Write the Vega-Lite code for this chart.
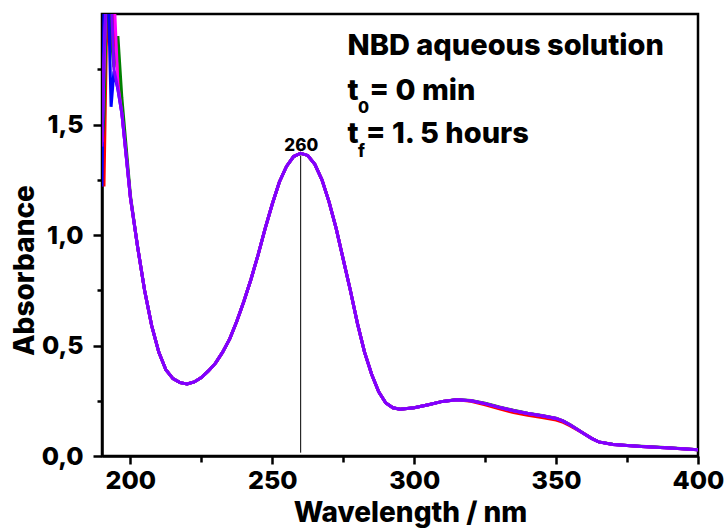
{
  "$schema": "https://vega.github.io/schema/vega-lite/v6.json",
  "width": 596,
  "height": 442,
  "autosize": {"type": "none"},
  "padding": {"left": 102, "top": 14, "right": 28, "bottom": 72},
  "background": "white",
  "config": {
    "view": {"stroke": "black", "strokeWidth": 2.5},
    "font": "Inter",
    "axis": {
      "grid": false,
      "domainColor": "black",
      "domainWidth": 2.5,
      "tickColor": "black",
      "tickWidth": 2.5,
      "labelFont": "Inter",
      "labelFontSize": 25,
      "labelFontWeight": 800,
      "labelColor": "black",
      "titleFont": "Inter",
      "titleFontSize": 28,
      "titleFontWeight": 800,
      "titleColor": "black",
      "labelOverlap": false,
      "labelFlush": false
    }
  },
  "layer": [
    {
      "data": {
        "values": [
          {"x": 190.0, "red": 1.30, "green": 1.40, "blue": 1.22, "magenta": 1.42, "violet": 1.40},
          {"x": 190.7, "red": 1.22, "green": 1.55, "blue": 2.05, "magenta": 1.75, "violet": 1.80},
          {"x": 191.5, "red": 1.85, "green": 2.00, "blue": 2.10, "magenta": 2.10, "violet": 2.10},
          {"x": 192.3, "red": 2.10, "green": 2.05, "blue": 2.05, "magenta": 2.10, "violet": 2.10},
          {"x": 193.2, "red": 2.10, "green": 1.90, "blue": 1.58, "magenta": 2.10, "violet": 2.10},
          {"x": 194.2, "red": 1.95, "green": 1.76, "blue": 1.74, "magenta": 2.10, "violet": 1.75},
          {"x": 195.6, "red": 1.72, "green": 1.90, "blue": 1.66, "magenta": 1.68, "violet": 1.66},
          {"x": 197.0, "red": 1.56, "green": 1.62, "blue": 1.55, "magenta": 1.55, "violet": 1.55},
          {"x": 198.5, "red": 1.37, "green": 1.40, "blue": 1.36, "magenta": 1.36, "violet": 1.36},
          {"x": 200.0, "red": 1.17, "green": 1.18, "blue": 1.17, "magenta": 1.17, "violet": 1.17},
          {"x": 202.5, "red": 0.95, "green": 0.95, "blue": 0.95, "magenta": 0.95, "violet": 0.95},
          {"x": 205.0, "red": 0.75, "green": 0.75, "blue": 0.75, "magenta": 0.75, "violet": 0.75},
          {"x": 207.5, "red": 0.59, "green": 0.59, "blue": 0.59, "magenta": 0.59, "violet": 0.59},
          {"x": 210.0, "red": 0.47, "green": 0.47, "blue": 0.47, "magenta": 0.47, "violet": 0.47},
          {"x": 212.5, "red": 0.39, "green": 0.39, "blue": 0.39, "magenta": 0.39, "violet": 0.39},
          {"x": 215.0, "red": 0.35, "green": 0.35, "blue": 0.35, "magenta": 0.35, "violet": 0.35},
          {"x": 217.5, "red": 0.332, "green": 0.332, "blue": 0.332, "magenta": 0.332, "violet": 0.332},
          {"x": 220.0, "red": 0.326, "green": 0.326, "blue": 0.326, "magenta": 0.326, "violet": 0.326},
          {"x": 222.5, "red": 0.335, "green": 0.335, "blue": 0.335, "magenta": 0.335, "violet": 0.335},
          {"x": 225.0, "red": 0.355, "green": 0.355, "blue": 0.355, "magenta": 0.355, "violet": 0.355},
          {"x": 227.5, "red": 0.385, "green": 0.385, "blue": 0.385, "magenta": 0.385, "violet": 0.385},
          {"x": 230.0, "red": 0.42, "green": 0.42, "blue": 0.42, "magenta": 0.42, "violet": 0.42},
          {"x": 232.5, "red": 0.47, "green": 0.47, "blue": 0.47, "magenta": 0.47, "violet": 0.47},
          {"x": 235.0, "red": 0.53, "green": 0.53, "blue": 0.53, "magenta": 0.53, "violet": 0.53},
          {"x": 237.5, "red": 0.61, "green": 0.61, "blue": 0.61, "magenta": 0.61, "violet": 0.61},
          {"x": 240.0, "red": 0.70, "green": 0.70, "blue": 0.70, "magenta": 0.70, "violet": 0.70},
          {"x": 242.5, "red": 0.80, "green": 0.80, "blue": 0.80, "magenta": 0.80, "violet": 0.80},
          {"x": 245.0, "red": 0.91, "green": 0.91, "blue": 0.91, "magenta": 0.91, "violet": 0.91},
          {"x": 247.5, "red": 1.03, "green": 1.03, "blue": 1.03, "magenta": 1.03, "violet": 1.03},
          {"x": 250.0, "red": 1.14, "green": 1.14, "blue": 1.14, "magenta": 1.14, "violet": 1.14},
          {"x": 252.5, "red": 1.24, "green": 1.24, "blue": 1.24, "magenta": 1.24, "violet": 1.24},
          {"x": 255.0, "red": 1.31, "green": 1.31, "blue": 1.31, "magenta": 1.31, "violet": 1.31},
          {"x": 257.5, "red": 1.355, "green": 1.355, "blue": 1.355, "magenta": 1.355, "violet": 1.355},
          {"x": 260.0, "red": 1.37, "green": 1.37, "blue": 1.37, "magenta": 1.37, "violet": 1.37},
          {"x": 262.5, "red": 1.36, "green": 1.36, "blue": 1.36, "magenta": 1.36, "violet": 1.36},
          {"x": 265.0, "red": 1.32, "green": 1.32, "blue": 1.32, "magenta": 1.32, "violet": 1.32},
          {"x": 267.5, "red": 1.25, "green": 1.25, "blue": 1.25, "magenta": 1.25, "violet": 1.25},
          {"x": 270.0, "red": 1.15, "green": 1.15, "blue": 1.15, "magenta": 1.15, "violet": 1.15},
          {"x": 272.5, "red": 1.03, "green": 1.03, "blue": 1.03, "magenta": 1.03, "violet": 1.03},
          {"x": 275.0, "red": 0.89, "green": 0.89, "blue": 0.89, "magenta": 0.89, "violet": 0.89},
          {"x": 277.5, "red": 0.75, "green": 0.75, "blue": 0.75, "magenta": 0.75, "violet": 0.75},
          {"x": 280.0, "red": 0.60, "green": 0.60, "blue": 0.60, "magenta": 0.60, "violet": 0.60},
          {"x": 282.5, "red": 0.47, "green": 0.47, "blue": 0.47, "magenta": 0.47, "violet": 0.47},
          {"x": 285.0, "red": 0.37, "green": 0.37, "blue": 0.37, "magenta": 0.37, "violet": 0.37},
          {"x": 287.5, "red": 0.29, "green": 0.29, "blue": 0.29, "magenta": 0.29, "violet": 0.29},
          {"x": 290.0, "red": 0.24, "green": 0.24, "blue": 0.24, "magenta": 0.24, "violet": 0.24},
          {"x": 292.5, "red": 0.218, "green": 0.218, "blue": 0.218, "magenta": 0.218, "violet": 0.218},
          {"x": 295.0, "red": 0.212, "green": 0.212, "blue": 0.212, "magenta": 0.212, "violet": 0.212},
          {"x": 300.0, "red": 0.218, "green": 0.218, "blue": 0.218, "magenta": 0.218, "violet": 0.218},
          {"x": 305.0, "red": 0.232, "green": 0.232, "blue": 0.232, "magenta": 0.232, "violet": 0.232},
          {"x": 310.0, "red": 0.247, "green": 0.247, "blue": 0.247, "magenta": 0.247, "violet": 0.247},
          {"x": 315.0, "red": 0.255, "green": 0.256, "blue": 0.255, "magenta": 0.255, "violet": 0.255},
          {"x": 320.0, "red": 0.248, "green": 0.251, "blue": 0.25, "magenta": 0.25, "violet": 0.25},
          {"x": 325.0, "red": 0.232, "green": 0.239, "blue": 0.237, "magenta": 0.237, "violet": 0.237},
          {"x": 330.0, "red": 0.213, "green": 0.222, "blue": 0.22, "magenta": 0.22, "violet": 0.22},
          {"x": 335.0, "red": 0.197, "green": 0.207, "blue": 0.205, "magenta": 0.205, "violet": 0.205},
          {"x": 340.0, "red": 0.184, "green": 0.194, "blue": 0.192, "magenta": 0.192, "violet": 0.192},
          {"x": 345.0, "red": 0.174, "green": 0.183, "blue": 0.182, "magenta": 0.182, "violet": 0.182},
          {"x": 350.0, "red": 0.163, "green": 0.171, "blue": 0.17, "magenta": 0.17, "violet": 0.17},
          {"x": 352.5, "red": 0.152, "green": 0.159, "blue": 0.158, "magenta": 0.158, "violet": 0.158},
          {"x": 355.0, "red": 0.136, "green": 0.141, "blue": 0.14, "magenta": 0.14, "violet": 0.14},
          {"x": 357.5, "red": 0.118, "green": 0.121, "blue": 0.12, "magenta": 0.12, "violet": 0.12},
          {"x": 360.0, "red": 0.1, "green": 0.1, "blue": 0.1, "magenta": 0.1, "violet": 0.1},
          {"x": 362.5, "red": 0.08, "green": 0.08, "blue": 0.08, "magenta": 0.08, "violet": 0.08},
          {"x": 365.0, "red": 0.064, "green": 0.064, "blue": 0.064, "magenta": 0.064, "violet": 0.064},
          {"x": 370.0, "red": 0.052, "green": 0.053, "blue": 0.052, "magenta": 0.052, "violet": 0.052},
          {"x": 375.0, "red": 0.047, "green": 0.048, "blue": 0.047, "magenta": 0.047, "violet": 0.047},
          {"x": 380.0, "red": 0.043, "green": 0.044, "blue": 0.043, "magenta": 0.043, "violet": 0.043},
          {"x": 390.0, "red": 0.036, "green": 0.037, "blue": 0.036, "magenta": 0.036, "violet": 0.036},
          {"x": 400.0, "red": 0.028, "green": 0.028, "blue": 0.028, "magenta": 0.028, "violet": 0.028}
        ]
      },
      "transform": [
        {"fold": ["red", "green", "blue", "magenta", "violet"], "as": ["series", "value"]}
      ],
      "mark": {"type": "line", "strokeWidth": 3, "clip": true},
      "encoding": {
        "x": {
          "field": "x",
          "type": "quantitative",
          "scale": {"domain": [190, 400], "nice": false, "zero": false},
          "axis": {
            "title": "Wavelength / nm",
            "values": [200, 225, 250, 275, 300, 325, 350, 375, 400],
            "labelExpr": "datum.value % 50 === 0 ? datum.label : ''",
            "tickSize": {"condition": {"test": "datum.value % 50 === 0", "value": 8}, "value": 6},
            "labelPadding": 4,
            "titleX": 308,
            "titleY": 65,
            "titleBaseline": "alphabetic"
          }
        },
        "y": {
          "field": "value",
          "type": "quantitative",
          "scale": {"domain": [0, 2], "nice": false},
          "axis": {
            "title": "Absorbance",
            "values": [0, 0.25, 0.5, 0.75, 1, 1.25, 1.5, 1.75],
            "labelExpr": "datum.value % 0.5 === 0 ? replace(format(datum.value, '.1f'), '.', ',') : ''",
            "tickSize": {"condition": {"test": "datum.value % 0.5 === 0", "value": 9}, "value": 5},
            "labelPadding": 10,
            "titleX": -77,
            "titleY": 256,
            "titleBaseline": "middle"
          }
        },
        "color": {
          "field": "series",
          "type": "nominal",
          "scale": {
            "domain": ["red", "green", "blue", "magenta", "violet"],
            "range": ["#ff0000", "#008000", "#0000ff", "#ff00ff", "#7f00ff"]
          },
          "legend": null
        }
      }
    },
    {
      "data": {"values": [{"x": 260, "y": 0.015, "y2": 1.36}]},
      "mark": {"type": "rule", "color": "black", "strokeWidth": 1},
      "encoding": {
        "x": {"field": "x", "type": "quantitative"},
        "y": {"field": "y", "type": "quantitative"},
        "y2": {"field": "y2"}
      }
    },
    {
      "data": {"values": [{}]},
      "mark": {"type": "text", "font": "Inter", "fontWeight": 800, "fontSize": 17, "align": "center", "baseline": "alphabetic", "color": "black"},
      "encoding": {
        "x": {"datum": 260.2, "type": "quantitative"},
        "y": {"datum": 1.381, "type": "quantitative"},
        "text": {"value": "260"}
      }
    },
    {
      "data": {"values": [{}]},
      "mark": {"type": "text", "font": "Inter", "fontWeight": 800, "fontSize": 29, "align": "left", "baseline": "alphabetic", "color": "black"},
      "encoding": {
        "x": {"datum": 276.5, "type": "quantitative"},
        "y": {"datum": 1.814, "type": "quantitative"},
        "text": {"value": "NBD aqueous solution"}
      }
    },
    {
      "data": {"values": [{}]},
      "mark": {"type": "text", "font": "Inter", "fontWeight": 800, "fontSize": 29, "align": "left", "baseline": "alphabetic", "color": "black"},
      "encoding": {
        "x": {"datum": 276.5, "type": "quantitative"},
        "y": {"datum": 1.611, "type": "quantitative"},
        "text": {"value": "t"}
      }
    },
    {
      "data": {"values": [{}]},
      "mark": {"type": "text", "font": "Inter", "fontWeight": 800, "fontSize": 16, "align": "left", "baseline": "alphabetic", "color": "black"},
      "encoding": {
        "x": {"datum": 280.2, "type": "quantitative"},
        "y": {"datum": 1.552, "type": "quantitative"},
        "text": {"value": "0"}
      }
    },
    {
      "data": {"values": [{}]},
      "mark": {"type": "text", "font": "Inter", "fontWeight": 800, "fontSize": 29, "align": "left", "baseline": "alphabetic", "color": "black"},
      "encoding": {
        "x": {"datum": 284.2, "type": "quantitative"},
        "y": {"datum": 1.611, "type": "quantitative"},
        "text": {"value": "= 0 min"}
      }
    },
    {
      "data": {"values": [{}]},
      "mark": {"type": "text", "font": "Inter", "fontWeight": 800, "fontSize": 29, "align": "left", "baseline": "alphabetic", "color": "black"},
      "encoding": {
        "x": {"datum": 276.5, "type": "quantitative"},
        "y": {"datum": 1.416, "type": "quantitative"},
        "text": {"value": "t"}
      }
    },
    {
      "data": {"values": [{}]},
      "mark": {"type": "text", "font": "Inter", "fontWeight": 800, "fontSize": 17, "align": "left", "baseline": "alphabetic", "color": "black"},
      "encoding": {
        "x": {"datum": 280.2, "type": "quantitative"},
        "y": {"datum": 1.353, "type": "quantitative"},
        "text": {"value": "f"}
      }
    },
    {
      "data": {"values": [{}]},
      "mark": {"type": "text", "font": "Inter", "fontWeight": 800, "fontSize": 29, "align": "left", "baseline": "alphabetic", "color": "black"},
      "encoding": {
        "x": {"datum": 282.9, "type": "quantitative"},
        "y": {"datum": 1.416, "type": "quantitative"},
        "text": {"value": "= 1. 5 hours"}
      }
    }
  ]
}
